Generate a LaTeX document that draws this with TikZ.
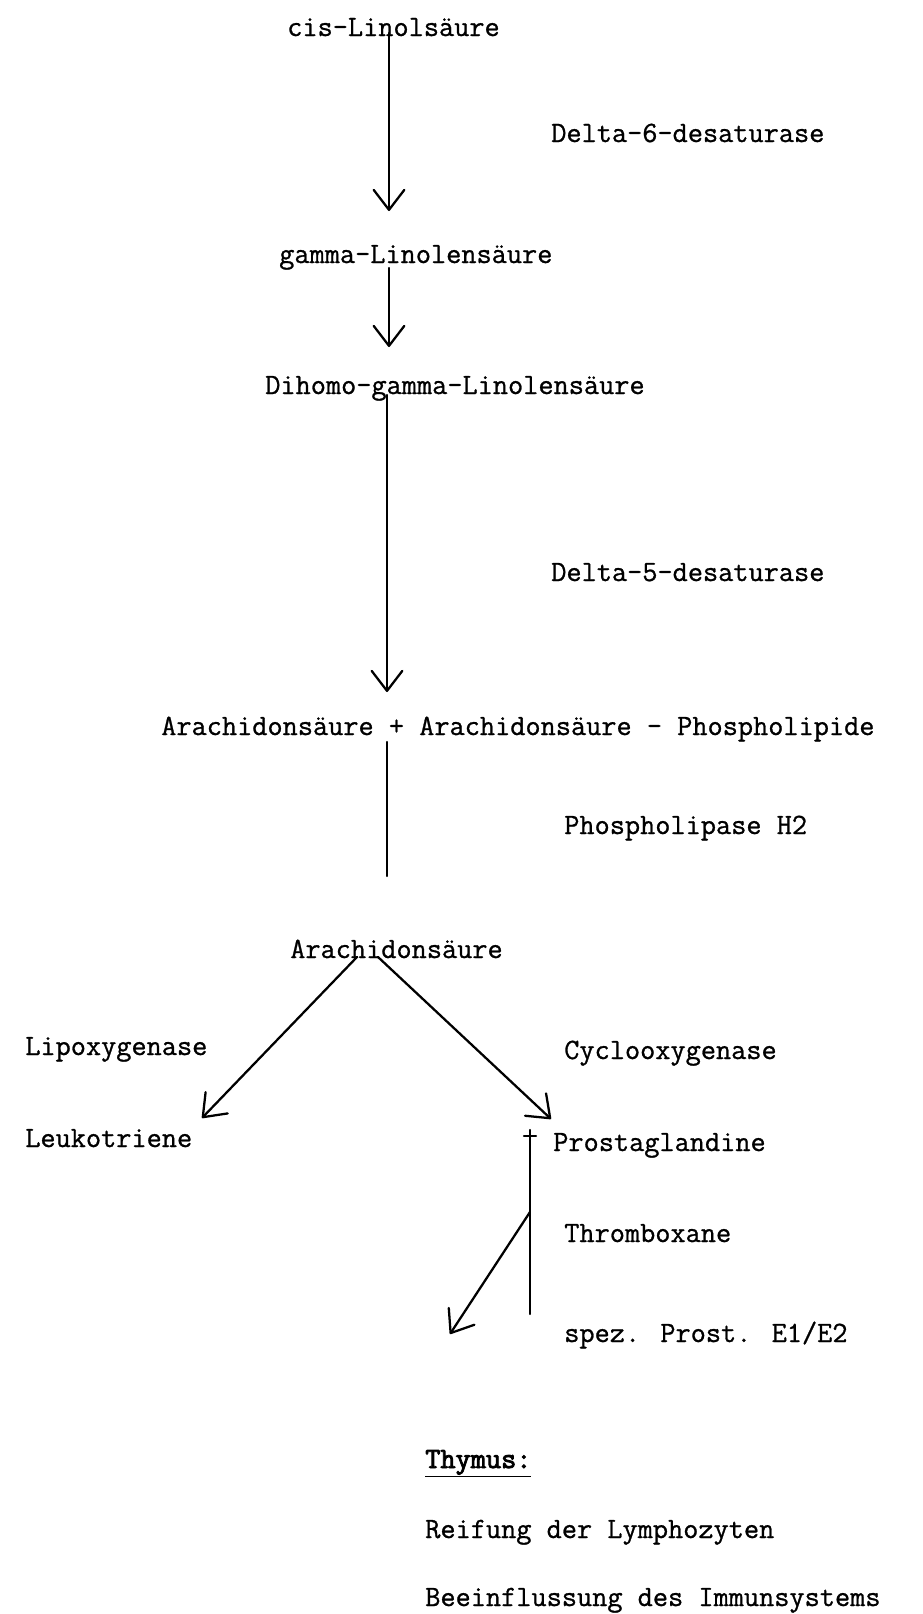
\documentclass[tikz,border=0pt]{standalone}
\usepackage{fontspec}
\setmainfont{Latin Modern Mono}[FakeBold=0.9]
\newfontfamily\boldmono{Latin Modern Mono}[FakeBold=3]
\usetikzlibrary{arrows.meta}
\begin{document}
\begin{tikzpicture}[x=0.75pt,y=-0.75pt,
  lbl/.style={anchor=base west, inner sep=0pt, font=\fontsize{22.1}{27}\selectfont},
  flow/.style={line width=1.7pt, line cap=round},
  tip/.style={flow, -{Straight Barb[length=15pt, width=23pt, line width=1.7pt, round]}}]
\useasboundingbox (0,0) rectangle (922,1614);
% texts
\node[lbl] (cis)   at (287,36)   {cis-Linolsäure};
\node[lbl] (d6)    at (551,142)  {Delta-6-desaturase};
\node[lbl] (gla)   at (279,263)  {gamma-Linolensäure};
\node[lbl] (dgla)  at (265,394)  {Dihomo-gamma-Linolensäure};
\node[lbl] (d5)    at (551,581)  {Delta-5-desaturase};
\node[lbl] (aapl)  at (161,735)  {Arachidonsäure + Arachidonsäure - Phospholipide};
\node[lbl] (pla)   at (564,834)  {Phospholipase H2};
\node[lbl] (aa)    at (290,958)  {Arachidonsäure};
\node[lbl] (lox)   at (25,1055)  {Lipoxygenase};
\node[lbl] (cox)   at (564,1059) {Cyclooxygenase};
\node[lbl] (lt)    at (25,1147)  {Leukotriene};
\node[lbl] (pg)    at (553,1151) {Prostaglandine};
\node[lbl] (tx)    at (564,1242) {Thromboxane};
\node[lbl] (spez)  at (564,1342) {spez. Prost. E1/E2};
\node[lbl] (thy)   at (425,1468) {\boldmono\underline{Thymus:}};
\node[lbl] (reif)  at (425,1538) {Reifung der Lymphozyten};
\node[lbl] (beein) at (425,1606) {Beeinflussung des Immunsystems};
% connector end points
\coordinate (a1) at (389,33);   \coordinate (a2) at (389,211);
\coordinate (b1) at (389,268);  \coordinate (b2) at (389,347);
\coordinate (c1) at (387,395);  \coordinate (c2) at (387,692);
\coordinate (d1) at (387,742);  \coordinate (d2) at (387,876);
\coordinate (e1) at (357,957);  \coordinate (e2) at (202,1118);
\coordinate (f1) at (378,957);  \coordinate (f2) at (551,1119);
\coordinate (g1) at (530,1130); \coordinate (g2) at (530,1314);
\coordinate (gt1) at (524,1136); \coordinate (gt2) at (536,1136);
\coordinate (h1) at (530,1212); \coordinate (h2) at (450,1334);
% connectors
\draw[tip]  (a1) -- (a2);
\draw[tip]  (b1) -- (b2);
\draw[tip]  (c1) -- (c2);
\draw[flow] (d1) -- (d2);
\draw[tip]  (e1) -- (e2);
\draw[tip]  (f1) -- (f2);
\draw[flow] (g1) -- (g2);
\draw[flow] (gt1) -- (gt2);
\draw[tip]  (h1) -- (h2);
\end{tikzpicture}
\end{document}
